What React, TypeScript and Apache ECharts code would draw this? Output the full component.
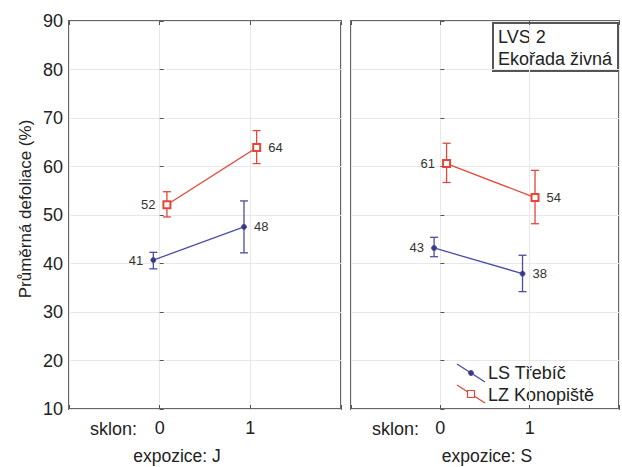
import React, { useEffect, useRef } from "react";
import * as echarts from "echarts";

const yTicks = [10, 20, 30, 40, 50, 60, 70, 80, 90];
const xCategories = [0, 1];
const panelTitles = ["expozice: J", "expozice: S"];
const seriesNames = ["LS Třebíč", "LZ Konopiště"];
const boxLines = ["LVS 2", "Ekořada živná"];
const yName = "Průměrná defoliace (%)";

// [x position (offset), mean]
const lsJ = [[-0.07, 40.7], [0.93, 47.55]];
const lzJ = [[0.08, 52.1], [1.07, 63.9]];
const lsS = [[-0.07, 43.2], [0.92, 37.9]];
const lzS = [[0.07, 60.6], [1.06, 53.6]];
// [x, low, high]
const lsJErr = [[-0.07, 38.9, 42.3], [0.93, 42.2, 52.9]];
const lzJErr = [[0.08, 49.6, 54.8], [1.07, 60.6, 67.4]];
const lsSErr = [[-0.07, 41.4, 45.4], [0.92, 34.2, 41.7]];
const lzSErr = [[0.07, 56.7, 64.8], [1.06, 48.2, 59.2]];

const BLUE = "#4c4ca6";
const RED = "#e2473a";
const FONT = "Liberation Sans, Arial, sans-serif";

export default function App() {
  const ref = useRef<HTMLDivElement>(null);
  useEffect(() => {
    if (!ref.current) return;
    const chart = echarts.init(ref.current, null, { renderer: "svg" });

    const errSeries = (data: number[][], color: string, idx: number) => ({
      type: "custom",
      xAxisIndex: idx,
      yAxisIndex: idx,
      z: 2,
      data,
      renderItem: (params: any, api: any) => {
        const x = api.value(0);
        const lo = api.coord([x, api.value(1)]);
        const hi = api.coord([x, api.value(2)]);
        const w = 4;
        const st = { stroke: color, lineWidth: 1.3 };
        return {
          type: "group",
          children: [
            { type: "line", shape: { x1: lo[0], y1: lo[1], x2: hi[0], y2: hi[1] }, style: st },
            { type: "line", shape: { x1: lo[0] - w, y1: lo[1], x2: lo[0] + w, y2: lo[1] }, style: st },
            { type: "line", shape: { x1: hi[0] - w, y1: hi[1], x2: hi[0] + w, y2: hi[1] }, style: st },
          ],
        };
      },
    });

    const lineSeries = (name: string, data: number[][], color: string, idx: number, isRed: boolean) => ({
      type: "line",
      name,
      xAxisIndex: idx,
      yAxisIndex: idx,
      z: 3,
      data: data.map((d, i) => ({
        value: d,
        label: { position: i === 0 ? "left" : "right" },
      })),
      symbol: isRed ? "emptyRect" : "circle",
      symbolSize: isRed ? 7 : 5,
      itemStyle: isRed
        ? { color: RED, borderColor: RED, borderWidth: 1.2 }
        : { color: "#3a3a70", borderColor: BLUE, borderWidth: 1 },
      lineStyle: { color, width: 1.3 },
      label: {
        show: true,
        distance: 7,
        fontSize: 13,
        fontFamily: FONT,
        color: "#333",
        formatter: (p: any) => String(Math.round(p.value[1])),
      },
    });

    const xAxisBase = (gridIndex: number) => ({
      type: "value",
      gridIndex,
      min: -1,
      max: 2,
      interval: 1,
      axisLine: { show: false },
      axisTick: { show: true, inside: true, length: 4, lineStyle: { color: "#555" } },
      axisLabel: {
        fontSize: 18,
        fontFamily: FONT,
        color: "#222",
        margin: 10,
        formatter: (v: number) => (xCategories.includes(v) ? String(v) : ""),
      },
      splitLine: { show: true, lineStyle: { color: "#e8e8e8", width: 1 } },
    });

    const topAxis = (gridIndex: number) => ({
      type: "value",
      gridIndex,
      position: "top",
      min: -1,
      max: 2,
      interval: 1,
      axisLine: { show: false },
      axisTick: { show: true, inside: true, length: 4, lineStyle: { color: "#555" } },
      axisLabel: { show: false },
      splitLine: { show: false },
    });

    const yAxisBase = (gridIndex: number, showLabels: boolean) => ({
      type: "value",
      gridIndex,
      min: yTicks[0],
      max: yTicks[yTicks.length - 1],
      interval: 10,
      axisLine: { show: false },
      axisTick: { show: true, inside: true, length: 4, lineStyle: { color: "#555" } },
      axisLabel: {
        show: showLabels,
        fontSize: 18,
        fontFamily: FONT,
        color: "#222",
        margin: 6,
      },
      splitLine: { show: true, lineStyle: { color: "#e8e8e8", width: 1 } },
    });

    const txt = (text: string, x: number, y: number, size: number, align = "left") => ({
      type: "text",
      x,
      y,
      style: { text, fontSize: size, fontFamily: FONT, fill: "#222", align, verticalAlign: "middle" },
    });

    chart.setOption({
      animation: false,
      backgroundColor: "#fff",
      grid: [
        { left: 69, top: 21, width: 272, height: 388, show: true, borderColor: "#666", borderWidth: 2, backgroundColor: "transparent" },
        { left: 351, top: 21, width: 268, height: 388, show: true, borderColor: "#666", borderWidth: 2, backgroundColor: "transparent" },
      ],
      xAxis: [xAxisBase(0), xAxisBase(1), topAxis(0), topAxis(1)],
      yAxis: [yAxisBase(0, true), yAxisBase(1, false)],
      series: [
        errSeries(lsJErr, BLUE, 0),
        errSeries(lzJErr, RED, 0),
        errSeries(lsSErr, BLUE, 1),
        errSeries(lzSErr, RED, 1),
        lineSeries(seriesNames[0], lsJ, BLUE, 0, false),
        lineSeries(seriesNames[1], lzJ, RED, 0, true),
        lineSeries(seriesNames[0], lsS, BLUE, 1, false),
        lineSeries(seriesNames[1], lzS, RED, 1, true),
      ],
      graphic: [
        {
          type: "text",
          x: 25,
          y: 209,
          rotation: Math.PI / 2,
          style: { text: yName, fontSize: 17, fontFamily: FONT, fill: "#222", align: "center", verticalAlign: "middle" },
        },
        txt("sklon:", 90, 429, 18),
        txt("sklon:", 372, 429, 18),
        txt(panelTitles[0], 177, 456, 17.5, "center"),
        txt(panelTitles[1], 487, 456, 17.5, "center"),
        {
          type: "rect",
          shape: { x: 493, y: 23, width: 125, height: 48 },
          style: { fill: "#fff", stroke: "#555", lineWidth: 2 },
        },
        txt(boxLines[0], 498, 37, 18),
        txt(boxLines[1], 498, 59, 18),
        // legend
        { type: "line", shape: { x1: 457, y1: 364, x2: 485, y2: 382 }, style: { stroke: BLUE, lineWidth: 1.3 } },
        { type: "circle", shape: { cx: 471, cy: 373, r: 2.5 }, style: { fill: "#3a3a70", stroke: BLUE, lineWidth: 1 } },
        { type: "line", shape: { x1: 457, y1: 385, x2: 485, y2: 403 }, style: { stroke: RED, lineWidth: 1.3 } },
        { type: "rect", shape: { x: 467.5, y: 390.5, width: 7, height: 7 }, style: { fill: "#fff", stroke: RED, lineWidth: 1.2 } },
        txt(seriesNames[0], 488, 373, 18),
        txt(seriesNames[1], 488, 395, 18),
      ],
    });
    return () => chart.dispose();
  }, []);
  return <div ref={ref} style={{ position: "absolute", left: 0, top: 0, width: 622, height: 467 }} />;
}
